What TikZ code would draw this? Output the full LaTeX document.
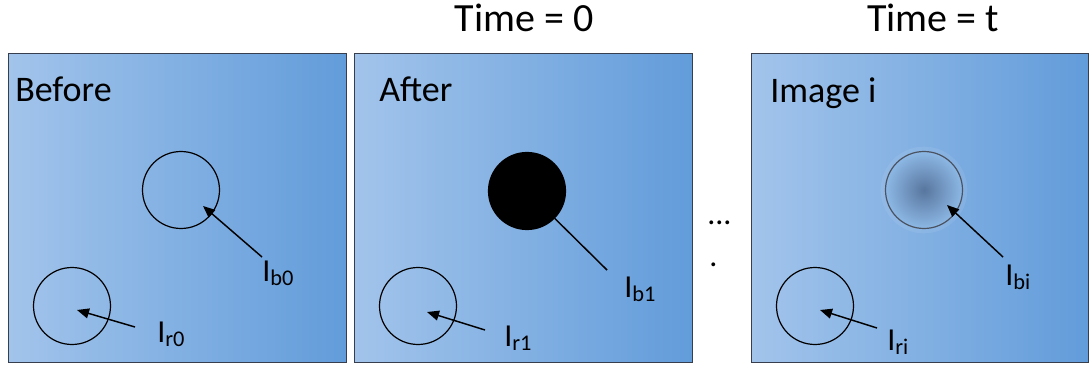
\documentclass[tikz,border=0pt]{standalone}
\usepackage{fontspec}
\setmainfont{Carlito}
\usetikzlibrary{arrows.meta,positioning}
\definecolor{panelL}{RGB}{162,196,235}
\definecolor{panelM}{RGB}{128,176,226}
\definecolor{panelR}{RGB}{98,156,218}
\definecolor{frameC}{RGB}{55,62,78}
\definecolor{blobC}{RGB}{88,118,158}
\definecolor{ringC}{RGB}{75,82,96}

\begin{document}
\begin{tikzpicture}[x=0.75pt,y=-0.75pt,>={Triangle[length=9pt,width=7.5pt]},
  panel/.style={draw=frameC,line width=0.8pt,anchor=north west,inner sep=0pt,
    minimum width=253.5pt,minimum height=231.75pt,
    shade,left color=panelL,middle color=panelM,right color=panelR},
  ring/.style={circle,draw,line width=0.9pt,inner sep=0pt,minimum size=57.75pt},
  title/.style={font=\fontsize{27}{32}\selectfont,anchor=base west,inner sep=0pt},
  timelbl/.style={font=\fontsize{30}{36}\selectfont,anchor=base,inner sep=0pt},
  ilbl/.style={font=\fontsize{24}{28}\selectfont,anchor=base west,inner sep=0pt},
  pin/.style={->,line width=1.1pt}]
\useasboundingbox (0,0) rectangle (1089,367);

% panels
\node[panel] (p0) at (8,53) {};
\node[panel] (p1) at (354,53) {};
\node[panel,minimum width=252.75pt] (p2) at (751,53) {};

\node[title] (t0) at (15,102) {Before};
\node[title] (t1) at (379,102) {After};
\node[title] (t2) at (770,103) {Image i};

\node[timelbl] (time0) at (524,32) {Time = 0};
\node[timelbl] (timet) at (933,32) {Time = t};

% before
\node[ring] (rb0) at (181,190) {};
\node[ring] (rr0) at (72,306) {};
\node[ilbl] (lb0) at (262,281) {I\textsubscript{b0}};
\node[ilbl] (lr0) at (157,342) {I\textsubscript{r0}};
\coordinate (sb0) at (262,257);
\coordinate (tb0) at (203,206);
\coordinate (sr0) at (135,327);
\coordinate (tr0) at (77,310);
\draw[pin] (sb0) -- (tb0);
\draw[pin] (sr0) -- (tr0);

% after
\node[ring,fill=black] (rb1) at (527,191) {};
\node[ring] (rr1) at (418,306) {};
\node[ilbl] (lb1) at (624,297) {I\textsubscript{b1}};
\node[ilbl] (lr1) at (504,346) {I\textsubscript{r1}};
\coordinate (sb1) at (607,270);
\coordinate (sr1) at (485,330);
\coordinate (tr1) at (427,312);
\draw[line width=1.1pt] (sb1) -- (rb1);
\draw[pin] (sr1) -- (tr1);

% dots between
\node[ilbl] (dots) at (707,224) {...};
\node[ilbl] (dot) at (709,267) {.};

% image i
\node[circle,fill=white,opacity=0.08,inner sep=0pt,minimum size=65pt] (halo) at (924,190) {};
\node[ring,draw=ringC,shade,inner color=blobC,outer color=panelM!90!white] (rbi) at (924,190) {};
\node[ring] (rri) at (815,306) {};
\node[ilbl] (lbi) at (1005,285) {I\textsubscript{bi}};
\node[ilbl] (lri) at (887,350) {I\textsubscript{ri}};
\coordinate (sbi) at (1003,257);
\coordinate (tbi) at (947,205);
\coordinate (sri) at (877,328);
\coordinate (tri) at (820,310);
\draw[pin] (sbi) -- (tbi);
\draw[pin] (sri) -- (tri);
\end{tikzpicture}
\end{document}
